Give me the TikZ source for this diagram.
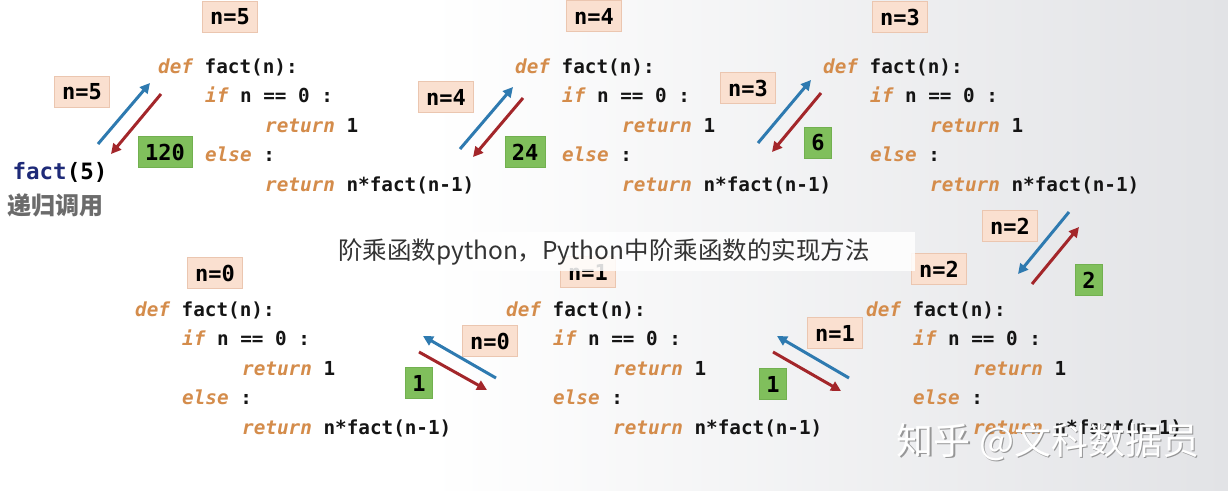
\documentclass[tikz,border=0pt]{standalone}
\usepackage{fontspec}
\setmonofont{DejaVu Sans Mono}
\newfontfamily\cjk{Noto Sans CJK SC}
\usetikzlibrary{arrows.meta,calc}
\definecolor{kwc}{HTML}{D48C4B}
\definecolor{peach}{HTML}{FAE0D0}
\definecolor{peachline}{HTML}{EBC6B0}
\definecolor{grn}{HTML}{80BF5C}
\definecolor{grnline}{HTML}{72B050}
\definecolor{upblue}{HTML}{2E7AB0}
\definecolor{downred}{HTML}{A3262A}
\definecolor{bgR}{HTML}{E2E3E6}
\definecolor{navy}{HTML}{1E2A78}
\definecolor{codeblack}{HTML}{151515}
\newcommand\kw[1]{{\color{kwc}\itshape #1}}
\newcommand\codeblock[3]{%
  \node[codeline] (#1-1) at (#2,#3) {\kw{def} fact(n):};
  \node[codeline] (#1-2) at ($(#2,#3)+(47,29.5)$) {\kw{if} n == 0 :};
  \node[codeline] (#1-3) at ($(#2,#3)+(107,59)$) {\kw{return} 1};
  \node[codeline] (#1-4) at ($(#2,#3)+(47,88.5)$) {\kw{else} :};
  \node[codeline] (#1-5) at ($(#2,#3)+(107,118)$) {\kw{return} n*fact(n-1)};
}
\begin{document}
\begin{tikzpicture}[x=1pt,y=-1pt,
  codeline/.style={anchor=base west,inner sep=0pt,text=codeblack,
    font=\ttfamily\bfseries\fontsize{19.3}{22}\selectfont},
  nbox/.style={fill=peach,draw=peachline,line width=0.8pt,inner xsep=8pt,inner ysep=0pt,
    minimum height=31pt,font=\ttfamily\bfseries\fontsize{22}{24}\selectfont},
  gbox/.style={fill=grn,draw=grnline,line width=0.5pt,inner xsep=7pt,inner ysep=0pt,
    minimum height=31pt,font=\ttfamily\bfseries\fontsize{22}{24}\selectfont},
  callarrow/.style={draw=upblue,line width=3pt,-{Triangle[length=10pt,width=10pt]}},
  retarrow/.style={draw=downred,line width=3pt,-{Triangle[length=10pt,width=10pt]}},
  wm/.style={font=\cjk\fontsize{37}{40}\selectfont,inner sep=0pt}]
\useasboundingbox (0,0) rectangle (1228,490);
\fill[white] (0,0) rectangle (1228,490);
\shade[left color=white,right color=bgR] (430,0) rectangle (1228,490);

% code blocks
\codeblock{c5}{158}{73}
\codeblock{c4}{515}{73}
\codeblock{c3}{823}{73}
\codeblock{c0}{135}{316}
\codeblock{c1}{506}{316}
\codeblock{c2}{866}{316}

% top labels
\node[nbox] (t5) at (230,17) {n=5};
\node[nbox] (t4) at (594,16) {n=4};
\node[nbox] (t3) at (900,17) {n=3};
\node[nbox] (t0) at (215,273) {n=0};
\node[nbox] (t1) at (588,272) {n=1};
\node[nbox] (t2) at (939,269) {n=2};

% side labels
\node[nbox] (s5) at (82,92) {n=5};
\node[nbox] (s4) at (446,97) {n=4};
\node[nbox] (s3) at (748,88) {n=3};
\node[nbox] (s2) at (1010,226) {n=2};
\node[nbox] (s0) at (490,341) {n=0};
\node[nbox] (s1) at (835,333) {n=1};

% return values
\node[gbox] (r120) at (165,152) {120};
\node[gbox] (r24) at (525,152) {24};
\node[gbox] (r6) at (818,143) {6};
\node[gbox] (r2) at (1089,280) {2};
\node[gbox] (r1a) at (419,383) {1};
\node[gbox] (r1b) at (773,384) {1};

% caller
\node[inner sep=0pt,font=\ttfamily\bfseries\fontsize{22.5}{24}\selectfont] (call) at (60,172)
  {{\color{navy}fact}(5)};
\node[inner sep=0pt,text=black!58,font=\cjk\bfseries\fontsize{24}{26}\selectfont] (callnote) at (55,205) {递归调用};

% arrow end points
\coordinate (b5s) at (98,144);   \coordinate (b5e) at (150,83);
\coordinate (d5s) at (161,94);   \coordinate (d5e) at (111,154);
\coordinate (b4s) at (460,149);  \coordinate (b4e) at (513,87);
\coordinate (d4s) at (523,98);   \coordinate (d4e) at (473,157);
\coordinate (b3s) at (758,143);  \coordinate (b3e) at (811,80);
\coordinate (d3s) at (821,93);   \coordinate (d3e) at (772,152);
\coordinate (b2s) at (1069,212); \coordinate (b2e) at (1018,274);
\coordinate (d2s) at (1032,284); \coordinate (d2e) at (1079,227);
\coordinate (b1s) at (849,378);  \coordinate (b1e) at (777,336);
\coordinate (d1s) at (773,352);  \coordinate (d1e) at (841,391);
\coordinate (b0s) at (496,378);  \coordinate (b0e) at (423,336);
\coordinate (d0s) at (419,352);  \coordinate (d0e) at (487,390);

\foreach \k in {5,4,3,2,1,0} {
  \draw[callarrow] (b\k s) -- (b\k e);
  \draw[retarrow] (d\k s) -- (d\k e);
}

% title overlay
\node[fill=white,fill opacity=0.85,minimum width=585pt,minimum height=39pt,inner sep=0pt,
  anchor=north west] (titlebox) at (330,232) {};
\node[anchor=west,inner sep=0pt,text=black!80,font=\cjk\fontsize{24.5}{26}\selectfont]
  (title) at (338,252) {阶乘函数python，Python中阶乘函数的实现方法};

% watermark
\node[wm,text=black!55,opacity=0.7] (wmshadow) at (1049.5,443.5) {知乎 @文科数据员};
\node[wm,text=white] (wmark) at (1048,442) {知乎 @文科数据员};
\end{tikzpicture}
\end{document}
